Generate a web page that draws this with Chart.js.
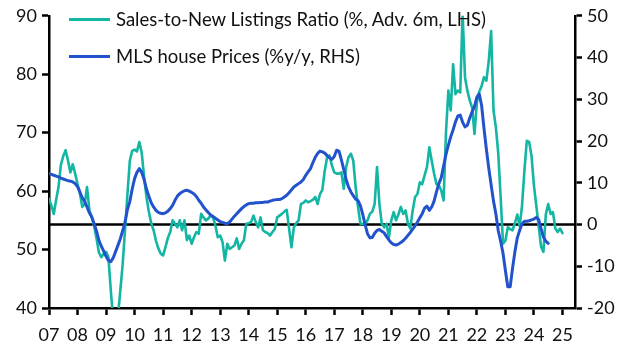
<!DOCTYPE html>
<html>
<head>
<meta charset="utf-8">
<title>Sales-to-New Listings Ratio vs MLS house prices</title>
<script src="https://cdn.jsdelivr.net/npm/chart.js@4.4.1/dist/chart.umd.min.js"></script>
<style>
    html, body { margin: 0; padding: 0; background: #fff; }
    #wrap { position: relative; width: 628px; height: 352px; }
    .legend-item {
        position: absolute; left: 69px; height: 22px; line-height: 22px;
        display: flex; align-items: center; white-space: nowrap;
        font-family: Lato, "Open Sans", sans-serif; font-size: 18.5px; color: #111;
    }
    .legend-item .swatch { width: 41px; height: 3px; margin-right: 6px; }
</style>
</head>
<body>
<div id="wrap">
    <canvas id="chart" width="628" height="352"></canvas>
    <div class="legend-item" style="top:8px"><span class="swatch" style="background:#13b5a3"></span>Sales-to-New Listings Ratio (%, Adv. 6m, LHS)</div>
    <div class="legend-item" style="top:45px"><span class="swatch" style="background:#2253cc"></span>MLS house Prices (%y/y, RHS)</div>
</div>
<script>
// Monthly series, first value = Jan 2007
const startYear = 2007;
const yearTicks = [2007, 2008, 2009, 2010, 2011, 2012, 2013, 2014, 2015, 2016,
    2017, 2018, 2019, 2020, 2021, 2022, 2023, 2024, 2025];
const leftTicks = [40, 50, 60, 70, 80, 90];
const rightTicks = [-20, -10, 0, 10, 20, 30, 40, 50];

// Sales-to-new listings ratio, %, advanced 6 months (LHS)
const salesToNewListings = [
    58.7, 57.5, 56.1, 58.5, 60.7, 64.5, 66.0, 67.0, 65.2, 63.2, 64.6, 63.0,
    61.2, 59.6, 57.3, 57.8, 60.7, 56.7, 55.5, 54.0, 51.9, 49.5, 48.7, 49.3,
    49.6, 48.7, 43.0, 38.0, 37.0, 38.5, 43.0, 47.5, 53.5, 59.5, 65.2, 66.9,
    67.1, 66.8, 68.4, 66.6, 62.4, 59.0, 56.5, 54.5, 53.3, 51.5, 50.2, 49.3,
    49.0, 50.4, 52.0, 53.0, 55.0, 54.4, 53.8, 55.0, 53.3, 55.0, 51.6, 52.4,
    51.0, 52.1, 53.0, 52.7, 56.1, 55.5, 55.0, 55.3, 55.8, 55.5, 54.1, 52.1,
    52.4, 51.3, 48.1, 51.0, 50.1, 50.4, 50.7, 51.9, 50.1, 51.0, 51.6, 54.4,
    54.5, 54.7, 55.8, 54.7, 53.8, 55.5, 53.3, 53.0, 52.8, 52.4, 53.0, 53.5,
    55.5, 55.8, 56.1, 56.5, 56.8, 53.6, 50.4, 53.8, 54.5, 55.0, 57.8, 58.0,
    58.4, 58.1, 58.3, 58.5, 59.0, 57.8, 59.5, 60.2, 63.5, 65.8, 66.1, 64.4,
    63.2, 63.0, 63.0, 63.2, 60.4, 64.1, 65.8, 66.4, 65.2, 60.7, 57.3, 54.4,
    54.4, 54.4, 55.0, 56.1, 56.5, 57.8, 64.1, 57.8, 54.4, 53.8, 54.4, 52.1,
    55.0, 56.4, 55.0, 56.0, 57.3, 56.1, 56.7, 54.4, 53.6, 56.7, 59.0, 59.5,
    61.5, 61.2, 62.7, 64.1, 67.5, 65.2, 63.0, 61.2, 61.0, 60.1, 58.4, 70.0,
    77.2, 73.8, 81.7, 76.6, 77.2, 76.9, 90.5, 79.5, 77.2, 75.5, 74.3, 69.8,
    75.2, 77.0, 78.0, 79.5, 78.9, 82.3, 87.4, 73.8, 70.9, 66.4, 59.0, 51.0,
    51.5, 53.8, 53.5, 53.3, 54.5, 56.0, 54.0, 57.5, 63.5, 68.6, 68.4, 66.0,
    61.0, 57.5, 54.0, 50.5, 49.6, 56.0, 57.8, 56.1, 56.4, 53.6, 53.0, 53.6,
    52.8
];

// MLS house prices, % y/y (RHS)
const mlsHousePrices = [
    12.2, 12.0, 11.8, 11.6, 11.4, 11.1, 10.9, 10.7, 10.5, 10.4, 10.2, 9.8,
    9.1, 7.8, 6.4, 5.5, 4.2, 2.8, 1.8, 0.2, -1.6, -3.8, -5.2, -6.4,
    -7.6, -8.6, -8.9, -8.0, -6.5, -5.0, -3.4, -1.5, 0.6, 3.6, 5.5, 8.5,
    11.0, 12.5, 13.4, 12.5, 10.8, 8.5, 6.8, 5.2, 4.2, 3.4, 2.9, 2.7,
    2.6, 2.8, 3.2, 3.8, 4.6, 5.8, 6.8, 7.4, 7.8, 8.1, 8.2, 8.0,
    7.7, 7.3, 6.7, 5.8, 5.1, 4.2, 3.5, 2.9, 2.3, 1.9, 1.5, 1.1,
    0.7, 0.5, 0.3, 0.2, 0.6, 1.3, 2.0, 2.6, 3.2, 3.8, 4.3, 4.7,
    5.0, 5.1, 5.1, 5.2, 5.2, 5.3, 5.3, 5.4, 5.4, 5.6, 5.8, 5.9,
    6.0, 6.0, 6.2, 6.6, 7.0, 7.6, 8.3, 9.0, 9.4, 9.8, 10.2, 10.8,
    11.8, 12.6, 13.4, 14.8, 16.1, 17.0, 17.6, 17.4, 17.1, 16.5, 16.0, 15.6,
    16.3, 17.8, 17.6, 15.5, 13.2, 10.8, 9.0, 7.8, 6.9, 6.1, 5.7, 4.5,
    2.4, -0.1, -2.2, -3.2, -3.1, -2.1, -1.4, -1.2, -1.6, -2.0, -2.9, -3.7,
    -4.4, -4.8, -4.9, -4.7, -4.3, -3.9, -3.3, -2.6, -1.9, -1.1, -0.3, 0.6,
    1.6, 2.6, 3.9, 4.4, 3.4, 4.2, 5.6, 7.8, 9.8, 11.2, 14.0, 16.8,
    19.0, 21.0, 22.7, 24.6, 26.0, 26.2, 24.5, 23.4, 23.8, 25.5, 27.0, 28.3,
    30.5, 31.3, 28.5, 23.0, 18.0, 13.5, 9.5, 5.6, 2.5, -1.5, -4.0, -6.9,
    -11.0, -14.9, -14.9, -10.5, -6.5, -3.2, -1.4, 0.2, 0.8, 0.8, 0.9, 1.1,
    1.3, 1.7, 1.2, -1.0, -3.0, -4.0, -4.5
];

const toPoints = (values) => values.map((v, i) => ({ x: startYear + i / 12, y: v }));

const tickFont = { family: 'Lato, "Open Sans", sans-serif', size: 18 };
const axisGrid = { drawOnChartArea: false, tickLength: 7, tickWidth: 2.5, tickColor: '#000' };
const axisBorder = { color: '#000', width: 2.5 };

// Horizontal line at 0 on the right-hand axis
const zeroLine = {
    id: 'zeroLine',
    beforeDatasetsDraw(chart) {
        const { ctx, chartArea } = chart;
        const y = chart.scales.y1.getPixelForValue(0);
        ctx.save();
        ctx.strokeStyle = '#000';
        ctx.lineWidth = 2.5;
        ctx.beginPath();
        ctx.moveTo(chartArea.left, y);
        ctx.lineTo(chartArea.right, y);
        ctx.stroke();
        ctx.restore();
    }
};

new Chart(document.getElementById('chart'), {
    type: 'line',
    data: {
        datasets: [{
            label: 'Sales-to-New Listings Ratio (%, Adv. 6m, LHS)',
            data: toPoints(salesToNewListings),
            borderColor: '#13b5a3',
            borderWidth: 2.6,
            yAxisID: 'y',
            order: 1
        }, {
            label: 'MLS house Prices (%y/y, RHS)',
            data: toPoints(mlsHousePrices),
            borderColor: '#2253cc',
            borderWidth: 3,
            yAxisID: 'y1',
            order: 0
        }]
    },
    options: {
        responsive: false,
        animation: false,
        layout: { padding: { top: 15, left: 0, right: 0, bottom: 0 } },
        elements: {
            point: { radius: 0 },
            line: { tension: 0, borderJoinStyle: 'round', borderCapStyle: 'round' }
        },
        plugins: { legend: { display: false }, tooltip: { enabled: false } },
        scales: {
            x: {
                type: 'linear',
                min: 2007,
                max: 2025.44,
                afterBuildTicks: (s) => { s.ticks = yearTicks.map(v => ({ value: v })); },
                afterFit: (s) => { s.height = 44; },
                ticks: {
                    font: tickFont, color: '#111', padding: 9,
                    maxRotation: 0, autoSkip: false,
                    callback: (v) => String(v % 100).padStart(2, '0')
                },
                grid: axisGrid,
                border: axisBorder
            },
            y: {
                position: 'left',
                min: 40,
                max: 90,
                afterBuildTicks: (s) => { s.ticks = leftTicks.map(v => ({ value: v })); },
                afterFit: (s) => { s.width = 49; },
                ticks: { font: tickFont, color: '#111', padding: 5 },
                grid: axisGrid,
                border: axisBorder
            },
            y1: {
                position: 'right',
                min: -20,
                max: 50,
                afterBuildTicks: (s) => { s.ticks = rightTicks.map(v => ({ value: v })); },
                afterFit: (s) => { s.width = 53; },
                ticks: { font: tickFont, color: '#111', padding: 5 },
                grid: axisGrid,
                border: axisBorder
            }
        }
    },
    plugins: [zeroLine]
});
</script>
</body>
</html>
